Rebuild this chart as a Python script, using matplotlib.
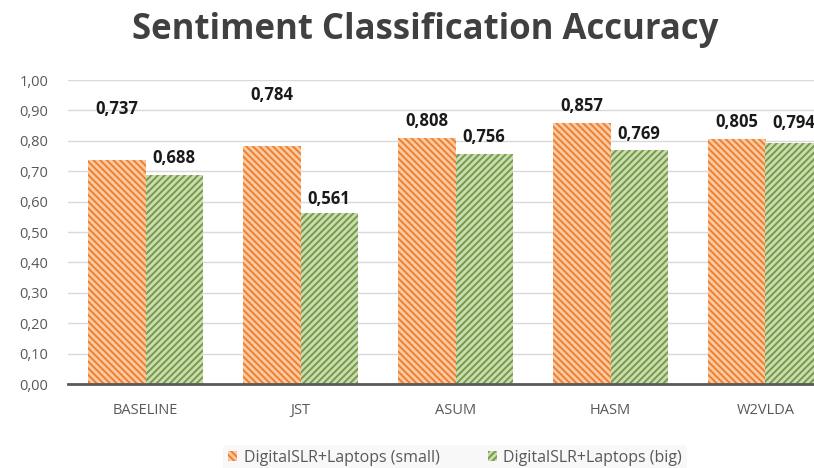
import numpy as np
import matplotlib
matplotlib.use("Agg")
import matplotlib.pyplot as plt

# data
categories = ["BASELINE", "JST", "ASUM", "HASM", "W2VLDA"]
small_vals = [0.737, 0.784, 0.808, 0.857, 0.805]
big_vals = [0.688, 0.561, 0.756, 0.769, 0.794]
series_names = ["DigitalSLR+Laptops (small)", "DigitalSLR+Laptops (big)"]

# label lift in points (Excel labels were nudged by hand)
small_lift = [30, 30, 6, 6, 6]
big_lift = [6, 4, 6, 5, 8]

plt.rcParams['font.family'] = ['Open Sans', 'DejaVu Sans']
plt.rcParams['hatch.linewidth'] = 1.4

fig = plt.figure(figsize=(8.14, 4.68), dpi=100)
ax = fig.add_axes([68 / 814, 1 - 384 / 468, 775 / 814, 304 / 468])

x = np.arange(len(categories))
w = 0.37
b1 = ax.bar(x - w / 2, small_vals, w, facecolor='#F9CBA4', edgecolor='#F07E2E',
            hatch='\\' * 5, linewidth=0, zorder=2, label=series_names[0])
b2 = ax.bar(x + w / 2, big_vals, w, facecolor='#CBDDAE', edgecolor='#76994C',
            hatch='/' * 5, linewidth=0, zorder=2, label=series_names[1])

for bars, vals, lifts in [(b1, small_vals, small_lift), (b2, big_vals, big_lift)]:
    for r, v, l in zip(bars, vals, lifts):
        ax.annotate(f"{v:.3f}".replace(".", ","), (r.get_x() + r.get_width() / 2, v),
                    xytext=(0, l), textcoords='offset points', ha='center', va='bottom',
                    fontsize=12, fontweight='bold', color='#1a1a1a')

ax.set_xlim(-0.5, 4.5)
ax.set_ylim(0, 1.0)
ax.set_yticks(np.arange(0, 1.01, 0.1))
ax.set_yticklabels([f"{t:.2f}".replace(".", ",") for t in np.arange(0, 1.01, 0.1)])
ax.set_xticks(x)
ax.set_xticklabels(categories)
ax.tick_params(axis='both', length=0, labelsize=10.5, labelcolor='#595959')
ax.tick_params(axis='x', pad=14)
ax.tick_params(axis='y', pad=14)
ax.yaxis.grid(True, color='#d9d9d9', linewidth=1, zorder=0)
ax.set_axisbelow(True)
for s in ['top', 'right', 'left']:
    ax.spines[s].set_visible(False)
ax.spines['bottom'].set_color('#595959')
ax.spines['bottom'].set_linewidth(2)

fig.text(425 / 814, 1 - 30 / 468, "Sentiment Classification Accuracy", ha='center', va='center',
         fontsize=25, fontweight='bold', color='#404040')

leg = fig.legend(handles=[b1, b2], loc='center', bbox_to_anchor=(455 / 814, 1 - 458 / 468),
                 ncol=2, frameon=True, fontsize=11.5, handlelength=0.6, handleheight=0.6,
                 handletextpad=0.4, columnspacing=3.0, borderpad=0.3)
leg.get_frame().set_facecolor('#f7f7f7')
leg.get_frame().set_edgecolor('none')
for t in leg.get_texts():
    t.set_color('#595959')

fig.savefig("out.png", dpi=100)
